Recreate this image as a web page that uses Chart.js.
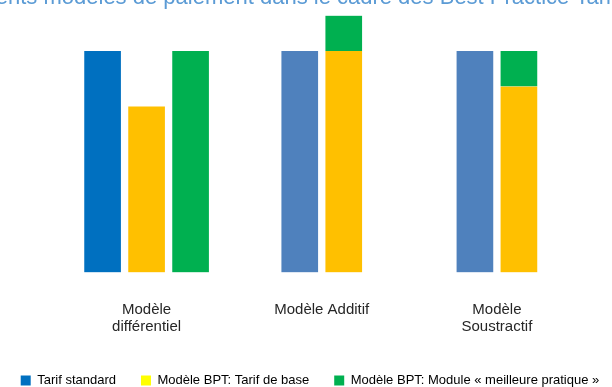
<!DOCTYPE html>
<html>
<head>
<meta charset="utf-8">
<script src="https://cdn.jsdelivr.net/npm/chart.js@4.4.1/dist/chart.umd.min.js"></script>
<style>
  html, body { margin: 0; padding: 0; background: #fff; overflow: hidden; }
  #wrap { width: 612px; height: 387px; position: relative; }
</style>
</head>
<body>
<div id="wrap"><canvas id="chart1"></canvas></div>
<script>
// text + data
const titleText = 'Différents modèles de paiement dans le cadre des Best Practice Tarifs';
const models = [['Modèle', 'différentiel'], 'Modèle Additif', ['Modèle', 'Soustractif']];
const tarifStandard = [100, 100, 100];
const tarifBase = [75, 100, 84];
const moduleSepare = [100, null, null];   // own bar in the differential model
const moduleEmpile = [null, 16, 16];      // stacked on top of the base tariff
const legendLabels = ['Tarif standard', 'Modèle BPT: Tarif de base', 'Modèle BPT: Module « meilleure pratique »'];
const legendColors = ['#0070c0', '#ffff00', '#00b050'];

const font = '"Liberation Sans", Arial, sans-serif';

// white left/right border gives the gap between bars of one group
const barStyle = {
    barThickness: 44,
    borderColor: '#ffffff',
    borderWidth: { left: 4, right: 4, top: 0, bottom: 0 },
    borderSkipped: false,
    skipNull: true
};

// title is cut off at the top of the picture, draw it by hand
const clippedTitle = {
    id: 'clippedTitle',
    afterDraw(chart) {
        const ctx = chart.ctx;
        ctx.save();
        ctx.font = '22px ' + font;
        ctx.fillStyle = '#5b9bd5';
        ctx.textBaseline = 'alphabetic';
        const x = 8 - ctx.measureText('Différe').width;
        ctx.fillText(titleText, x, 4);
        ctx.restore();
    }
};

const ctx = document.querySelector('#chart1');

new Chart(ctx, {
    type: 'bar',
    data: {
        labels: models,
        datasets: [
            { label: legendLabels[0], data: tarifStandard, stack: 'standard',
              backgroundColor: ['#0070c0', '#4f81bd', '#4f81bd'], ...barStyle },
            { label: legendLabels[1], data: tarifBase, stack: 'bpt',
              backgroundColor: '#ffc000', ...barStyle },
            { label: legendLabels[2], data: moduleSepare, stack: 'module',
              backgroundColor: '#00b050', ...barStyle },
            { label: legendLabels[2], data: moduleEmpile, stack: 'bpt',
              backgroundColor: '#00b050', ...barStyle }
        ]
    },
    options: {
        responsive: true,
        maintainAspectRatio: false,
        animation: false,
        layout: { padding: { top: 6.8, left: -16, right: -24, bottom: -10 } },
        scales: {
            x: {
                grid: { display: false, drawTicks: false },
                border: { display: false },
                ticks: {
                    color: '#262626',
                    font: { family: font, size: 15, lineHeight: 1.1 },
                    padding: 29.5,
                    maxRotation: 0,
                    autoSkip: false
                },
                afterFit(scale) { scale.height = 76.5; }
            },
            y: {
                stacked: true,
                min: 0,
                max: 120,
                grid: { display: false },
                border: { display: false },
                ticks: { display: false },
                afterFit(scale) { scale.width = 75; }
            },
            y2: {
                position: 'right',
                grid: { display: false },
                border: { display: false },
                ticks: { display: false },
                afterFit(scale) { scale.width = 51.5; }
            }
        },
        plugins: {
            tooltip: { enabled: false },
            title: { display: false },
            legend: {
                position: 'bottom',
                labels: {
                    boxWidth: 10,
                    boxHeight: 10,
                    padding: 25,
                    color: '#262626',
                    font: { family: font, size: 13 },
                    generateLabels: () => legendLabels.map((text, i) => ({
                        text: text,
                        fillStyle: legendColors[i],
                        strokeStyle: legendColors[i],
                        lineWidth: 0,
                        hidden: false,
                        datasetIndex: i
                    }))
                }
            }
        }
    },
    plugins: [clippedTitle]
});
</script>
</body>
</html>
